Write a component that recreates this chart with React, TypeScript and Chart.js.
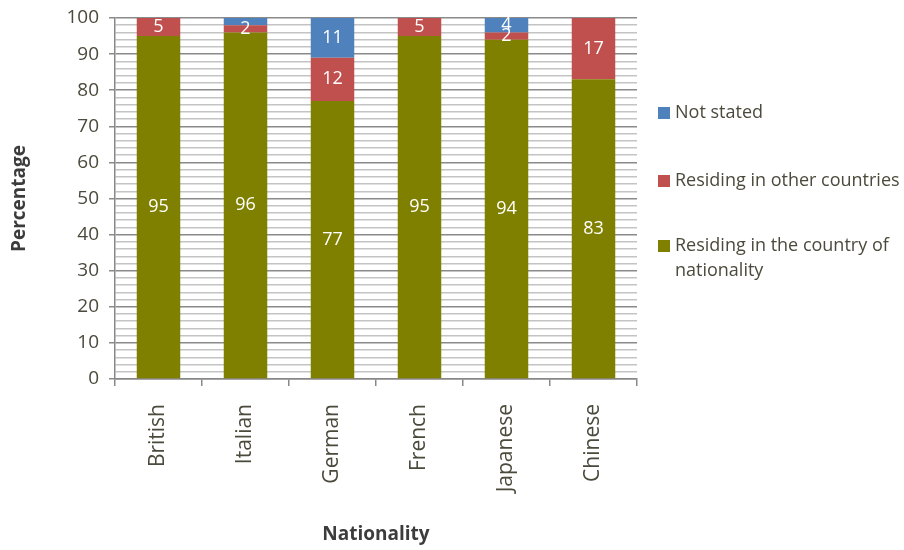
import React, { useEffect, useRef } from "react";
import { Chart, registerables } from "chart.js";

Chart.register(...registerables);

const categories = ["British", "Italian", "German", "French", "Japanese", "Chinese"];
const residingNationality = [95, 96, 77, 95, 94, 83];
const residingOther = [5, 2, 12, 5, 2, 17];
const notStated = [0, 2, 11, 0, 4, 0];
const notStatedLabelShown = [false, false, true, false, true, false];
const legendLabels = ["Not stated", "Residing in other countries", ["Residing in the country of", "nationality"]];

const FONT = "'Open Sans', sans-serif";
const TEXT = "#4b4a3c";
const COLORS = { olive: "#808000", red: "#c0504d", blue: "#4f81bd" };

const labelPlugin = {
  id: "segLabels",
  afterDatasetsDraw(chart: any) {
    const ctx = chart.ctx;
    ctx.save();
    ctx.fillStyle = "#ffffff";
    ctx.font = `18px ${FONT}`;
    ctx.textAlign = "center";
    ctx.textBaseline = "middle";
    chart.data.datasets.forEach((ds: any, di: number) => {
      const meta = chart.getDatasetMeta(di);
      meta.data.forEach((bar: any, i: number) => {
        const v = ds.data[i];
        if (!v) return;
        if (di === 2 && !notStatedLabelShown[i]) return;
        const y = (bar.y + bar.base) / 2;
        ctx.fillText(String(v), bar.x, y);
      });
    });
    ctx.restore();
  },
};

const legendPlugin = {
  id: "customLegend",
  afterDraw(chart: any) {
    const ctx = chart.ctx;
    ctx.save();
    ctx.font = `18px ${FONT}`;
    ctx.textBaseline = "middle";
    ctx.textAlign = "left";
    const cols = [COLORS.blue, COLORS.red, COLORS.olive];
    const ys = [113, 181, 246];
    legendLabels.forEach((lab: any, i: number) => {
      ctx.fillStyle = cols[i];
      ctx.fillRect(658, ys[i] - 6, 12, 12);
      ctx.fillStyle = TEXT;
      const lines = Array.isArray(lab) ? lab : [lab];
      lines.forEach((l: string, j: number) => ctx.fillText(l, 675, ys[i] + j * 25));
    });
    ctx.restore();
  },
};

export default function App() {
  const ref = useRef<HTMLCanvasElement>(null);
  useEffect(() => {
    document.body.style.margin = "0";
    const chart = new Chart(ref.current!, {
      type: "bar",
      data: {
        labels: categories,
        datasets: [
          { label: "Residing in the country of nationality", data: residingNationality, backgroundColor: COLORS.olive },
          { label: "Residing in other countries", data: residingOther, backgroundColor: COLORS.red },
          { label: "Not stated", data: notStated, backgroundColor: COLORS.blue },
        ],
      },
      options: {
        animation: false,
        responsive: false,
        maintainAspectRatio: false,
        layout: { padding: { top: 18, right: 267, left: 0, bottom: 0 } },
        datasets: { bar: { categoryPercentage: 1, barPercentage: 0.5 } },
        plugins: { legend: { display: false }, tooltip: { enabled: false } },
        scales: {
          x: {
            stacked: true,
            grid: { display: true, offset: true, drawOnChartArea: false, color: "#888888", tickLength: 7, lineWidth: 1.5 },
            border: { display: true, color: "#888888", width: 1.5 },
            ticks: { minRotation: 90, maxRotation: 90, padding: 18, color: TEXT, font: { family: FONT, size: 21 } },
            title: { display: true, text: "Nationality", color: "#3c3c3c", font: { family: FONT, size: 19, weight: "bold" }, padding: 4 },
            afterFit(s: any) { s.height = 171; s.paddingLeft = 0; s.paddingRight = 0; },
          },
          y: {
            stacked: true,
            min: 0,
            max: 100,
            ticks: {
              stepSize: 2,
              autoSkip: false,
              padding: 10,
              color: TEXT,
              font: { family: FONT, size: 19 },
              callback: (v: any) => (v % 10 === 0 ? String(v) : ""),
            },
            grid: {
              color: (c: any) => (c.tick && c.tick.value % 10 === 0 ? "#8a8a8a" : "#c4c4c4"),
              lineWidth: 1.5,
              tickColor: (c: any) => (c.tick && c.tick.value % 10 === 0 ? "#8a8a8a" : "rgba(0,0,0,0)"),
              tickLength: 6,
            },
            border: { display: true, color: "#888888", width: 1.5 },
            title: { display: true, text: "Percentage", color: "#3c3c3c", font: { family: FONT, size: 19, weight: "bold" }, padding: { top: 8, bottom: 4 } },
            afterFit(s: any) { s.width = 115; s.paddingTop = 0; s.paddingBottom = 0; },
          },
        },
      },
      plugins: [labelPlugin, legendPlugin],
    });
    return () => chart.destroy();
  }, []);
  return <canvas ref={ref} width={904} height={550} style={{ display: "block" }} />;
}
